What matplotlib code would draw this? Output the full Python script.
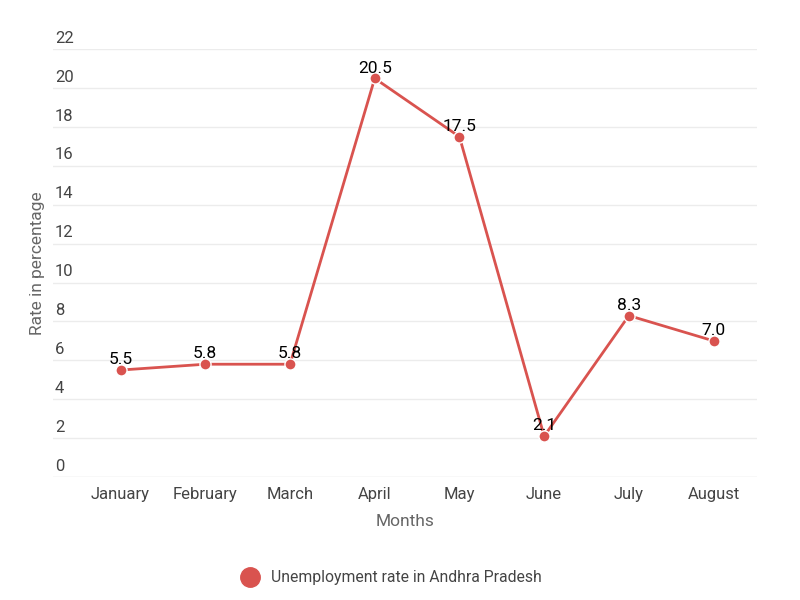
import matplotlib.pyplot as plt
from matplotlib.lines import Line2D
import matplotlib.transforms as mtransforms

months = ['January', 'February', 'March', 'April', 'May', 'June', 'July', 'August']
rates = [5.5, 5.8, 5.8, 20.5, 17.5, 2.1, 8.3, 7.0]
y_ticks = [0, 2, 4, 6, 8, 10, 12, 14, 16, 18, 20, 22]
series_name = 'Unemployment rate in Andhra Pradesh'

red = '#d9534f'
plt.rcParams['font.family'] = ['Roboto', 'DejaVu Sans']

fig = plt.figure(figsize=(8, 6), dpi=100)
ax = fig.add_axes([0.066, 0.205, 0.88, 0.713])

x = list(range(len(months)))
ax.plot(x, rates, color=red, lw=2, marker='o', ms=8, mec='white', mew=1, zorder=3)
for xi, v in zip(x, rates):
    ax.annotate(f'{v:.1f}', (xi, v), xytext=(0, 2), textcoords='offset points',
                ha='center', va='bottom', fontsize=12.5, color='black', zorder=4)

ax.set_xlim(-0.80, 7.51)
ax.set_ylim(0, 22)

# horizontal grid lines with labels sitting above them on the left
for t in y_ticks:
    ax.axhline(t, color='#dddddd' if t == 0 else '#ececec', lw=1, zorder=0)
trans = mtransforms.blended_transform_factory(ax.transAxes, ax.transData)
for t in y_ticks:
    ax.annotate(str(t), (0.003, t), xycoords=trans, xytext=(0, 2.5),
                textcoords='offset points', ha='left', va='bottom',
                fontsize=12, color='#444444')

ax.set_yticks([])
ax.set_xticks(x)
ax.set_xticklabels(months, fontsize=12, color='#444444')
ax.tick_params(axis='x', length=0, pad=7)
for s in ax.spines.values():
    s.set_visible(False)

ax.set_xlabel('Months', fontsize=12.5, color='#666666', labelpad=9)
fig.text(0.047, 0.562, 'Rate in percentage', rotation=90, ha='center', va='center',
         fontsize=12.5, color='#666666')

handle = Line2D([], [], color=red, marker='o', ms=14, ls='none')
fig.legend([handle], [series_name], loc='center', bbox_to_anchor=(0.485, 0.037),
           frameon=False, fontsize=11.3, labelcolor='#444444', handletextpad=0.3)

fig.savefig('out.png', dpi=100, facecolor='white')
